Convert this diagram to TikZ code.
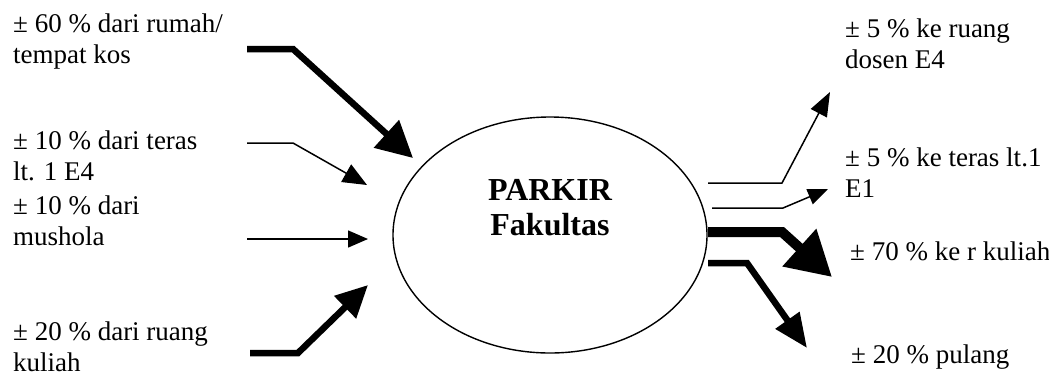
\documentclass[tikz,border=0pt]{standalone}
\usepackage{fontspec}
\setmainfont{Liberation Serif}
\usetikzlibrary{shapes.geometric,arrows.meta}
\begin{document}
\begin{tikzpicture}[x=1pt,y=-1pt,
  lbl/.style={anchor=base west,align=left,inner sep=0pt,font=\fontsize{27}{31}\selectfont},
  thin/.style={line width=1.5pt,line join=miter},
  thick/.style={line width=6.5pt,line join=miter},
  heavy/.style={line width=10pt,line join=miter}]
\useasboundingbox (0,0) rectangle (1049,376);
\node[draw,ellipse,line width=1.4pt,minimum width=314pt,minimum height=236pt,inner sep=0pt] (P) at (550,235) {};
\node[align=center,inner sep=0pt,font=\fontsize{32}{35}\selectfont\bfseries,anchor=base] (T) at (550,235) {PARKIR\\Fakultas};
% left labels (anchor = baseline of last line)
\node[lbl] (l1) at (13,63) {± 60 \% dari rumah/\\tempat kos};
\node[lbl] (l2) at (13,180) {± 10 \% dari teras\\lt. 1 E4};
\node[lbl] (l3) at (13,245) {± 10 \% dari\\mushola};
\node[lbl] (l4) at (13,371) {± 20 \% dari ruang\\kuliah};
% right labels
\node[lbl] (r1) at (845,68) {± 5 \% ke ruang\\dosen E4};
\node[lbl] (r2) at (845,197) {± 5 \% ke teras lt.1\\E1};
\node[lbl] (r3) at (850,260) {± 70 \% ke r kuliah};
\node[lbl] (r4) at (851,363) {± 20 \% pulang};
% coordinates
\coordinate (a1s) at (247,49); \coordinate (a1b) at (293,49); \coordinate (a1e) at (413,158);
\coordinate (a2s) at (247,143); \coordinate (a2b) at (293,143); \coordinate (a2e) at (367,185);
\coordinate (a3s) at (247,239); \coordinate (a3e) at (368,239);
\coordinate (a4s) at (250,353); \coordinate (a4b) at (298,353); \coordinate (a4e) at (368,285);
\coordinate (b1s) at (708,183); \coordinate (b1b) at (782,183); \coordinate (b1e) at (830,92);
\coordinate (b2s) at (712,208); \coordinate (b2b) at (783,208); \coordinate (b2e) at (828,189);
\coordinate (b3s) at (708,232); \coordinate (b3b) at (782,232); \coordinate (b3e) at (832,277);
\coordinate (b4s) at (708,263); \coordinate (b4b) at (747,263); \coordinate (b4e) at (807,348);
% arrows
\draw[thick,-{Triangle[length=36pt,width=36pt]}] (a1s) -- (a1b) -- (a1e);
\draw[thin,-{Triangle[length=24pt,width=20pt]}] (a2s) -- (a2b) -- (a2e);
\draw[thin,-{Triangle[length=20pt,width=17pt]}] (a3s) -- (a3e);
\draw[thick,-{Triangle[length=32pt,width=30pt]}] (a4s) -- (a4b) -- (a4e);
\draw[thin,-{Triangle[length=24pt,width=18pt]}] (b1s) -- (b1b) -- (b1e);
\draw[thin,-{Triangle[length=20pt,width=16pt]}] (b2s) -- (b2b) -- (b2e);
\draw[heavy,-{Triangle[length=44pt,width=48pt]}] (b3s) -- (b3b) -- (b3e);
\draw[thick,-{Triangle[length=34pt,width=28pt]}] (b4s) -- (b4b) -- (b4e);
\end{tikzpicture}
\end{document}
